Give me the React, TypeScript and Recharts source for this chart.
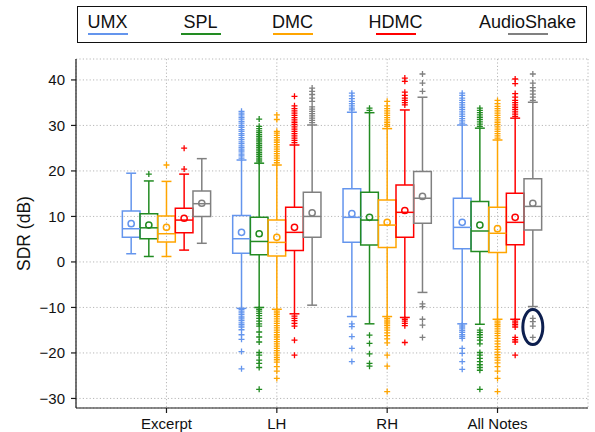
import {
  CartesianGrid,
  ComposedChart,
  Label,
  ReferenceArea,
  ReferenceDot,
  ReferenceLine,
  Scatter,
  XAxis,
  YAxis,
} from "recharts";

const GROUPS = ["Excerpt", "LH", "RH", "All Notes"];
const SERIES = ["UMX", "SPL", "DMC", "HDMC", "AudioShake"];
const COLORS = ["#6495ed", "#228b22", "#ffa500", "#ff0000", "#808080"];
const Y_TICKS = [-30, -20, -10, 0, 10, 20, 30, 40];

// rows = series (UMX, SPL, DMC, HDMC, AudioShake), columns = groups
const WHISKER_LOW = [
  [1.8, -10.2, -12.0, -13.6],
  [1.2, -10.0, -13.6, -13.7],
  [1.2, -10.4, -12.0, -12.6],
  [2.6, -11.4, -12.2, -12.6],
  [4.1, -9.5, -6.7, -9.8],
];
const Q1 = [
  [5.4, 1.9, 4.3, 2.9],
  [5.1, 1.6, 3.7, 2.3],
  [4.4, 1.3, 3.2, 2.1],
  [6.4, 2.5, 5.4, 3.8],
  [10.0, 5.4, 8.5, 7.0],
];
const MEDIAN = [
  [7.3, 5.1, 9.8, 7.6],
  [7.5, 4.5, 9.2, 6.8],
  [6.2, 4.3, 8.1, 6.3],
  [9.2, 6.5, 10.9, 8.7],
  [12.8, 10.0, 14.0, 12.2],
];
const Q3 = [
  [11.2, 10.2, 16.1, 14.0],
  [10.6, 9.8, 15.3, 13.3],
  [10.1, 9.2, 13.6, 12.0],
  [11.8, 12.0, 16.9, 15.1],
  [15.6, 15.3, 19.9, 18.3],
];
const WHISKER_HIGH = [
  [19.5, 22.4, 32.9, 30.1],
  [17.8, 21.7, 32.8, 29.4],
  [17.7, 21.3, 29.3, 26.8],
  [19.3, 25.7, 33.4, 31.6],
  [22.7, 30.1, 36.2, 35.1],
];
const MEAN = [
  [8.4, 6.5, 10.6, 8.7],
  [8.1, 6.2, 9.8, 8.1],
  [7.6, 5.4, 8.7, 7.3],
  [9.6, 7.6, 11.3, 9.8],
  [12.9, 10.8, 14.4, 12.9],
];

const UMX_OUTLIERS = [
  [],
  [22.8, 23.3, 23.7, 24.2, 24.6, 25.1, 25.5, 26.0, 26.4, 26.9, 27.3, 27.8, 28.2, 28.7, 29.1, 29.6, 30.0, 30.5, 30.9, 31.4, 31.8, 32.3, 32.7, 33.1,
    -10.4, -10.8, -11.2, -11.6, -12.1, -12.5, -12.9, -13.4, -13.8, -14.3, -14.9, -16.0, -17.0, -19.7, -23.5],
  [33.4, 33.8, 34.3, 34.8, 35.3, 35.9, 36.5, 37.1, -13.6, -14.2, -16.4, -19.0, -21.9],
  [30.5, 31.0, 31.5, 32.0, 32.5, 33.0, 33.5, 34.0, 34.5, 35.0, 35.5, 36.0, 36.6, 37.1,
    -13.9, -14.3, -14.7, -15.1, -15.5, -16.0, -16.4, -16.8, -19.0, -20.1, -21.9, -23.6],
];
const SPL_OUTLIERS = [
  [19.3],
  [22.0, 22.4, 22.8, 23.2, 23.6, 24.0, 24.4, 24.8, 25.2, 25.6, 26.0, 26.4, 26.8, 27.2, 27.6, 28.0, 28.4, 28.8, 29.3, 29.8, 31.4,
    -10.4, -10.8, -11.3, -11.8, -12.4, -13.0, -13.6, -14.1, -15.4, -16.5, -17.6, -19.9, -20.5, -21.6, -22.3, -23.2, -28.0],
  [33.3, 33.8, -16.1, -17.9, -20.2, -22.3, -22.9],
  [29.8, 30.3, 30.8, 31.3, 31.8, 32.3, 32.8, 33.3, 33.8,
    -15.0, -15.5, -16.0, -16.6, -17.2, -18.0, -19.9, -20.5, -21.2, -21.9, -22.6, -23.2, -23.8, -28.0],
];
const DMC_OUTLIERS = [
  [21.3],
  [21.8, 22.3, 22.8, 23.3, 23.8, 24.3, 24.8, 25.3, 25.8, 26.3, 26.8, 27.3, 27.8, 28.3, 28.7, 31.3, 32.3,
    -10.8, -11.2, -11.6, -12.0, -12.5, -13.0, -13.5, -14.0, -14.5, -15.0, -15.5, -16.0, -16.5, -17.0, -17.5, -18.0, -18.5,
    -19.0, -19.5, -20.0, -20.5, -21.0, -21.5, -22.0, -23.0, -24.0, -25.6],
  [29.8, 30.2, 30.7, 31.2, 31.7, 32.2, 32.7, 33.2, 33.7, 34.3, 35.3,
    -12.4, -12.8, -13.2, -13.6, -14.0, -14.5, -15.0, -15.6, -16.2, -16.9, -17.8, -20.5, -22.9, -28.5],
  [27.2, 27.7, 28.2, 28.7, 29.2, 29.7, 30.2, 30.7, 31.2, 31.7, 32.2, 32.7, 33.2, 33.7, 34.2, 34.8, 35.5,
    -13.0, -13.4, -13.8, -14.2, -14.7, -15.2, -15.7, -16.2, -16.8, -17.4, -18.0, -18.6, -19.2, -19.8, -20.4, -21.0,
    -21.6, -22.2, -23.0, -24.0, -25.6, -28.5],
];
const HDMC_OUTLIERS = [
  [20.4, 25.0],
  [26.2, 26.7, 27.2, 27.7, 28.2, 28.7, 29.2, 29.7, 30.2, 30.7, 31.2, 31.7, 32.2, 32.7, 33.2, 33.7, 34.3, 36.4,
    -11.9, -12.4, -12.9, -13.5, -14.1, -17.2, -20.5],
  [34.5, 35.0, 35.5, 36.0, 36.6, 37.3, 39.7, 40.4, -12.6, -13.0, -13.5, -14.0, -17.7],
  [32.0, 32.5, 33.0, 33.5, 34.0, 34.5, 35.0, 35.5, 36.2, 37.0, 39.2, 40.2,
    -13.0, -13.4, -13.8, -14.3, -16.6, -17.1, -17.6, -20.5],
];
const AUDIOSHAKE_OUTLIERS = [
  [],
  [30.6, 31.1, 31.6, 32.1, 32.6, 33.1, 33.6, 34.1, 35.3, 36.0, 36.8, 37.5, 38.2],
  [37.5, 39.3, 41.3, -9.2, -9.8, -12.6, -13.9, -16.6],
  [35.5, 36.2, 36.9, 37.6, 38.3, 39.3, 41.3, -12.4, -13.1, -14.1, -16.6],
];
const OUTLIERS = [UMX_OUTLIERS, SPL_OUTLIERS, DMC_OUTLIERS, HDMC_OUTLIERS, AUDIOSHAKE_OUTLIERS];

// the circled AudioShake outliers under "All Notes"
const HIGHLIGHT = { series: 4, group: 3, y: -14.3 };

const STEP = 0.16;
const HALF_BOX = 0.08;
const HALF_CAP = 0.045;
const FONT = "'Liberation Sans', Arial, sans-serif";
const AXIS = "#1a1a1a";

const pos = (s: number, g: number) => g + 1 + (s - 2) * STEP;

function Plus(props: any, color: string) {
  const { cx, cy } = props;
  return <path d={`M${cx - 3},${cy}h6M${cx},${cy - 3}v6`} stroke={color} strokeWidth={1.3} fill="none" />;
}

function Ring(props: any, color: string) {
  return <circle cx={props.cx} cy={props.cy} r={3.1} fill="none" stroke={color} strokeWidth={1.5} />;
}

export default function App() {
  const boxes = SERIES.flatMap((name, s) =>
    GROUPS.map((_, g) => {
      const x = pos(s, g);
      const c = COLORS[s];
      const k = `${name}-${g}`;
      const seg = (x1: number, y1: number, x2: number, y2: number) => [
        { x: x1, y: y1 },
        { x: x2, y: y2 },
      ];
      return [
        <ReferenceArea key={k + "box"} x1={x - HALF_BOX} x2={x + HALF_BOX} y1={Q1[s][g]} y2={Q3[s][g]}
          fill="none" stroke={c} strokeWidth={1.5} />,
        <ReferenceLine key={k + "med"} segment={seg(x - HALF_BOX, MEDIAN[s][g], x + HALF_BOX, MEDIAN[s][g])}
          stroke={c} strokeWidth={1.5} />,
        <ReferenceLine key={k + "wlo"} segment={seg(x, WHISKER_LOW[s][g], x, Q1[s][g])} stroke={c} strokeWidth={1.5} />,
        <ReferenceLine key={k + "whi"} segment={seg(x, Q3[s][g], x, WHISKER_HIGH[s][g])} stroke={c} strokeWidth={1.5} />,
        <ReferenceLine key={k + "clo"} segment={seg(x - HALF_CAP, WHISKER_LOW[s][g], x + HALF_CAP, WHISKER_LOW[s][g])}
          stroke={c} strokeWidth={1.5} />,
        <ReferenceLine key={k + "chi"} segment={seg(x - HALF_CAP, WHISKER_HIGH[s][g], x + HALF_CAP, WHISKER_HIGH[s][g])}
          stroke={c} strokeWidth={1.5} />,
      ];
    })
  );

  const legendCenters = [29.5, 122.5, 214.5, 317.5, 449.5];

  return (
    <div style={{ position: "absolute", left: 0, top: 0, width: 595, height: 432, background: "#fff", fontFamily: FONT }}>
      <ComposedChart width={595} height={432} margin={{ top: 59, right: 7, bottom: 0, left: 0 }}>
        <CartesianGrid stroke="#b0b0b0" strokeDasharray="1.2 2.2" strokeWidth={0.9} />
        <XAxis
          type="number"
          dataKey="x"
          domain={[0.18, 4.82]}
          ticks={[1, 2, 3, 4]}
          tickFormatter={(v: number) => GROUPS[v - 1]}
          allowDataOverflow
          height={24}
          tickSize={5}
          tickMargin={5}
          stroke={AXIS}
          strokeWidth={1.2}
          tick={{ fill: "#111", fontSize: 15, fontFamily: FONT }}
        />
        <XAxis xAxisId="top" orientation="top" type="number" domain={[0.18, 4.82]} height={0}
          tick={false} tickLine={false} stroke={AXIS} strokeWidth={1.2} />
        <YAxis
          type="number"
          dataKey="y"
          domain={[-32.1, 44.6]}
          ticks={Y_TICKS}
          tickFormatter={(v: number) => String(v).replace("-", "\u2212")}
          allowDataOverflow
          width={76}
          tickSize={5}
          tickMargin={6}
          stroke={AXIS}
          strokeWidth={1.2}
          tick={{ fill: "#111", fontSize: 15, fontFamily: FONT }}
        >
          <Label
            content={(p: any) => {
              const vb = p.viewBox;
              const x = vb.x + 30;
              const y = vb.y + vb.height / 2;
              return (
                <text x={x} y={y} transform={`rotate(-90 ${x} ${y})`} textAnchor="middle"
                  fontSize={17.5} fontFamily={FONT} fill="#111">
                  SDR (dB)
                </text>
              );
            }}
          />
        </YAxis>
        <YAxis yAxisId="right" orientation="right" type="number" domain={[-32.1, 44.6]} width={0}
          tick={false} tickLine={false} stroke={AXIS} strokeWidth={1.2} />

        {boxes}

        {SERIES.map((name, s) => (
          <Scatter
            key={name + "-out"}
            name={name}
            data={OUTLIERS[s].flatMap((vals, g) => vals.map((v) => ({ x: pos(s, g), y: v })))}
            dataKey="y"
            shape={(p: any) => Plus(p, COLORS[s])}
            isAnimationActive={false}
          />
        ))}
        {SERIES.map((name, s) => (
          <Scatter
            key={name + "-mean"}
            data={GROUPS.map((_, g) => ({ x: pos(s, g), y: MEAN[s][g] }))}
            dataKey="y"
            shape={(p: any) => Ring(p, COLORS[s])}
            isAnimationActive={false}
          />
        ))}

        <ReferenceDot
          x={pos(HIGHLIGHT.series, HIGHLIGHT.group)}
          y={HIGHLIGHT.y}
          shape={(p: any) => (
            <ellipse cx={p.cx} cy={p.cy} rx={10} ry={17.5} fill="none" stroke="#0d1f4f" strokeWidth={3} />
          )}
        />
      </ComposedChart>

      <div
        style={{
          position: "absolute",
          left: 77,
          top: 6,
          width: 510,
          height: 37,
          border: "1.5px solid #111",
          boxSizing: "border-box",
          background: "#fff",
        }}
      >
        {SERIES.map((name, i) => (
          <div key={name} style={{ position: "absolute", left: legendCenters[i] - 60, width: 120, top: 0, height: 34 }}>
            <div style={{ position: "absolute", top: 4.5, width: 120, textAlign: "center", fontSize: 18, lineHeight: "20px", color: "#111" }}>
              {name}
            </div>
            <div style={{ position: "absolute", top: 26, left: 40, width: 40, height: 2, background: COLORS[i] }} />
          </div>
        ))}
      </div>
    </div>
  );
}
